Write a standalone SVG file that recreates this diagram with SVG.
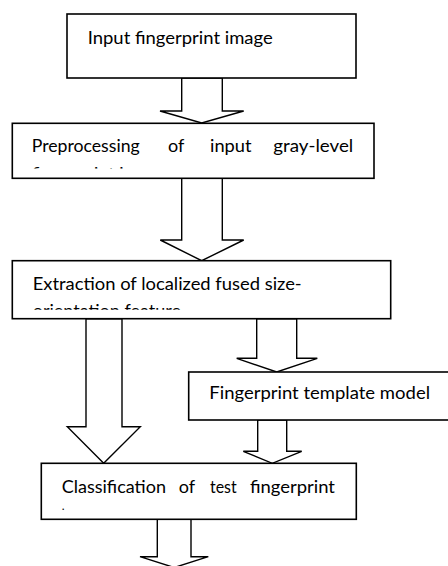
<svg xmlns="http://www.w3.org/2000/svg" width="448" height="566" viewBox="0 0 448 566">
<style>
.box{fill:#fff;stroke:#000;stroke-width:1.6}
.arr{fill:#fff;stroke:#000;stroke-width:1.4;stroke-linejoin:miter}
.t{font-family:Lato,"Open Sans","Liberation Sans",sans-serif;font-size:18px;fill:#000}
</style>
<defs>
<clipPath id="c2"><rect x="12" y="123" width="362" height="45.5"/></clipPath>
<clipPath id="c3"><rect x="12" y="261" width="379" height="48.8"/></clipPath>
</defs>
<rect width="448" height="566" fill="#fff"/>
<g id="connectors">
<polygon class="arr" points="181.7,78 181.7,111 160,111 201.7,123 243.7,111 222.3,111 222.3,78"/>
<polygon class="arr" points="181.7,178 181.7,240 160.3,240 201.7,260.7 243.7,240 222.3,240 222.3,178"/>
<polygon class="arr" points="86,318.7 86,426.7 67.3,426.7 103.7,463.3 140.3,426.7 122,426.7 122,318.7"/>
<polygon class="arr" points="256.7,318.7 256.7,358.3 236.7,358.3 276.7,372 317.3,358.3 296.7,358.3 296.7,318.7"/>
<polygon class="arr" points="257.7,420 257.7,451.3 243.3,451.3 272.3,463.3 301.7,451.3 286.7,451.3 286.7,420"/>
<polygon class="arr" points="157.3,519.3 157.3,556.7 140,556.7 174.2,567.5 208.3,556.7 191,556.7 191,519.3"/>
</g>
<g id="n1">
<rect class="box" x="67" y="14" width="289" height="64"/>
<text class="t" x="87.7" y="44" textLength="185" lengthAdjust="spacingAndGlyphs">Input fingerprint image</text>
</g>
<g id="n2">
<rect class="box" x="12.3" y="123.3" width="361.7" height="55"/>
<text class="t" x="31.7" y="151.7" textLength="108" lengthAdjust="spacingAndGlyphs">Preprocessing</text>
<text class="t" x="168" y="151.7">of</text>
<text class="t" x="210" y="151.7" textLength="41.5" lengthAdjust="spacingAndGlyphs">input</text>
<text class="t" x="273.3" y="151.7" textLength="80" lengthAdjust="spacingAndGlyphs">gray-level</text>
<text class="t" x="31.7" y="179.5" clip-path="url(#c2)">fingerprint image</text>
</g>
<g id="n3">
<rect class="box" x="12.3" y="260.7" width="378.4" height="58"/>
<text class="t" x="32.7" y="290" textLength="269" lengthAdjust="spacingAndGlyphs">Extraction of localized fused size-</text>
<text class="t" x="32.7" y="316.5" clip-path="url(#c3)">orientation feature</text>
</g>
<g id="n4">
<rect class="box" x="188.7" y="372" width="262" height="48"/>
<text class="t" x="209.3" y="399" textLength="220.7" lengthAdjust="spacingAndGlyphs">Fingerprint template model</text>
</g>
<g id="n5">
<rect class="box" x="41.3" y="463.3" width="315" height="56"/>
<text class="t" x="61.7" y="492.7" textLength="104.3" lengthAdjust="spacingAndGlyphs">Classification</text>
<text class="t" x="178.8" y="492.7">of</text>
<text class="t" x="210" y="492.7" textLength="26.7" lengthAdjust="spacingAndGlyphs">test</text>
<text class="t" x="250" y="492.7" textLength="85" lengthAdjust="spacingAndGlyphs">fingerprint</text>
<text class="t" x="61.7" y="510" style="font-size:12px">.</text>
</g>
</svg>
